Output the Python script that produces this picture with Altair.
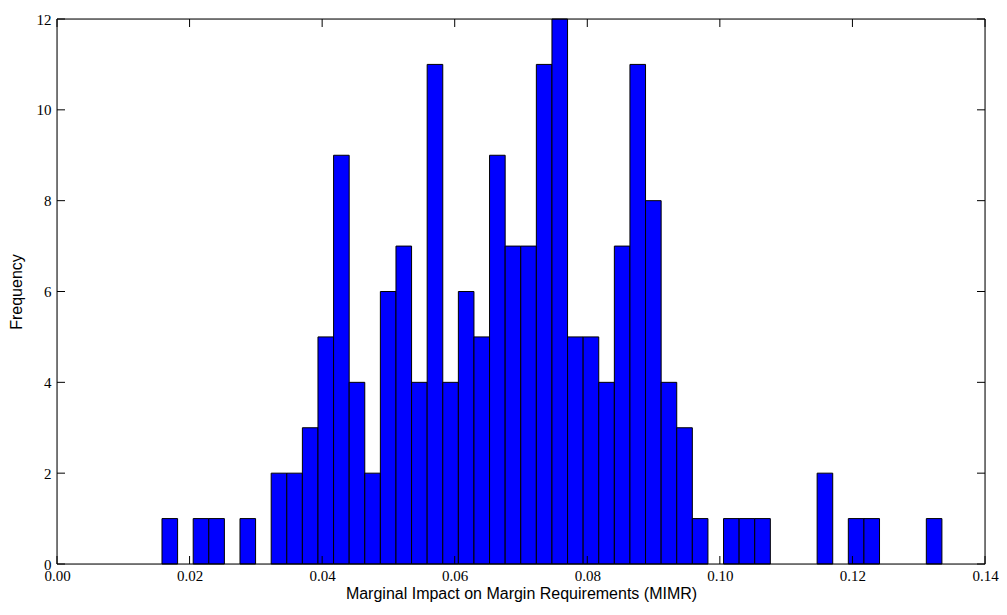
import numpy as np
import pandas as pd
import altair as alt

# histogram: 50 bins between these edges
bin_lo = 0.01584
bin_hi = 0.13350
counts = [1, 0, 1, 1, 0, 1, 0, 2, 2, 3,
          5, 9, 4, 2, 6, 7, 4, 11, 4, 6,
          5, 9, 7, 7, 11, 12, 5, 5, 4, 7,
          11, 8, 4, 3, 1, 0, 1, 1, 1, 0,
          0, 0, 2, 0, 1, 1, 0, 0, 0, 1]
x_ticks = [0.00, 0.02, 0.04, 0.06, 0.08, 0.10, 0.12, 0.14]
y_ticks = [0, 2, 4, 6, 8, 10, 12]

edges = np.linspace(bin_lo, bin_hi, len(counts) + 1)
df = pd.DataFrame({"start": edges[:-1], "end": edges[1:], "count": counts})
df = df[df["count"] > 0]

W, H = 928, 545
xs = alt.Scale(domain=[0, 0.14], nice=False)
ys = alt.Scale(domain=[0, 12], nice=False)

bars = alt.Chart(df).mark_rect(color="#0000ff", stroke="black", strokeWidth=1).encode(
    x=alt.X("start:Q", scale=xs, title="Marginal Impact on Margin Requirements (MIMR)",
            axis=alt.Axis(values=x_ticks, format=".2f", tickSize=0, grid=False, labelFlush=False,
                          labelFont="Liberation Serif", labelFontSize=15, labelPadding=4,
                          titleFont="Liberation Sans", titleFontSize=16, titleFontWeight="normal",
                          titlePadding=2, labelColor="black", titleColor="black", domain=False)),
    x2="end:Q",
    y=alt.Y("count:Q", scale=ys, title="Frequency",
            axis=alt.Axis(values=y_ticks, tickSize=0, grid=False, labelFlush=False,
                          labelFont="Liberation Serif", labelFontSize=15, labelPadding=6,
                          titleFont="Liberation Sans", titleFontSize=16, titleFontWeight="normal",
                          titlePadding=12, labelColor="black", titleColor="black", domain=False)),
    y2=alt.datum(0),
)

xt = pd.DataFrame({"v": x_ticks})
yt = pd.DataFrame({"v": y_ticks})
xb = alt.Chart(xt).mark_rule(color="black").encode(x=alt.X("v:Q", scale=xs), y=alt.value(H), y2=alt.value(H - 8))
xtop = alt.Chart(xt).mark_rule(color="black").encode(x=alt.X("v:Q", scale=xs), y=alt.value(0), y2=alt.value(8))
yl = alt.Chart(yt).mark_rule(color="black").encode(y=alt.Y("v:Q", scale=ys), x=alt.value(0), x2=alt.value(8))
yr = alt.Chart(yt).mark_rule(color="black").encode(y=alt.Y("v:Q", scale=ys), x=alt.value(W), x2=alt.value(W - 8))
frame = alt.Chart(xt.head(1)).mark_rect(fill=None, stroke="black", strokeWidth=1).encode(
    x=alt.value(0), x2=alt.value(W), y=alt.value(0), y2=alt.value(H))

chart = alt.layer(bars, xb, xtop, yl, yr, frame).properties(
    width=W, height=H, autosize=alt.AutoSizeParams(type="none"),
    padding={"left": 49, "top": 11, "right": 14, "bottom": 40},
).configure_view(stroke=None).configure(background="white")

chart.save("out.html", embed_options={"renderer": "svg", "actions": False})
